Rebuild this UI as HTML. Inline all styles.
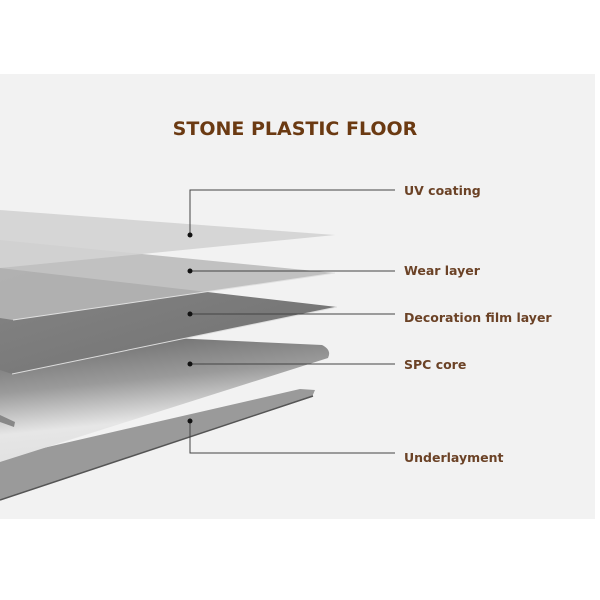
<!DOCTYPE html>
<html><head><style>
body{margin:0;background:#fff;width:600px;height:600px;overflow:hidden}
svg{display:block}
text{font-family:"DejaVu Sans","Liberation Sans",sans-serif;font-weight:bold}
</style></head><body>
<svg width="600" height="600" viewBox="0 0 600 600">
<defs>
<linearGradient id="spc" x1="0" y1="0" x2="0.25" y2="1">
<stop offset="0" stop-color="#5e5e5e"/><stop offset="0.45" stop-color="#9a9a9a"/><stop offset="0.75" stop-color="#e6e6e6"/><stop offset="1" stop-color="#e0e0e0"/></linearGradient>
<linearGradient id="dec" x1="0" y1="0" x2="1" y2="1">
<stop offset="0" stop-color="#858585"/><stop offset="1" stop-color="#707070"/></linearGradient>
</defs>
<rect x="0" y="74" width="595" height="445" fill="#f2f2f2"/>
<text x="295" y="135" text-anchor="middle" font-size="19" fill="#6b3a12">STONE PLASTIC FLOOR</text>
<polygon points="0,458 300,389 315,390 312,397 0,500" fill="#9a9a9a"/>
<line x1="0" y1="500" x2="313" y2="396" stroke="#555" stroke-width="1.5"/>
<path d="M0,330 L322,345 Q332,350 328,358 L0,462 Z" fill="url(#spc)"/>
<path d="M0,415 L15,422 L14,427 L0,422Z" fill="#888"/>
<polygon points="0,268 337,307 12,374 0,370" fill="url(#dec)"/>
<line x1="337" y1="307" x2="12" y2="374" stroke="#ddd" stroke-width="1"/>
<polygon points="0,240 335,273 13,320 0,318" fill="#b8b8b8" fill-opacity="0.85"/>
<line x1="335" y1="273" x2="13" y2="320" stroke="#e0e0e0" stroke-width="1"/>
<polygon points="0,210 335,235 0,268" fill="#d3d3d3" fill-opacity="0.9"/>
<g stroke="#444" stroke-width="1" fill="none">
<polyline points="190,235 190,190 395,190"/>
<line x1="190" y1="271" x2="395" y2="271"/>
<line x1="190" y1="314" x2="395" y2="314"/>
<line x1="190" y1="364" x2="395" y2="364"/>
<polyline points="190,421 190,453 395,453"/>
</g>
<g fill="#111">
<circle cx="190" cy="235" r="2.5"/><circle cx="190" cy="271" r="2.5"/><circle cx="190" cy="314" r="2.5"/><circle cx="190" cy="364" r="2.5"/><circle cx="190" cy="421" r="2.5"/>
</g>
<g font-size="12.5" fill="#6b4226">
<text x="404" y="195">UV coating</text>
<text x="404" y="275">Wear layer</text>
<text x="404" y="322">Decoration film layer</text>
<text x="404" y="369">SPC core</text>
<text x="404" y="462">Underlayment</text>
</g>
</svg>
</body></html>
